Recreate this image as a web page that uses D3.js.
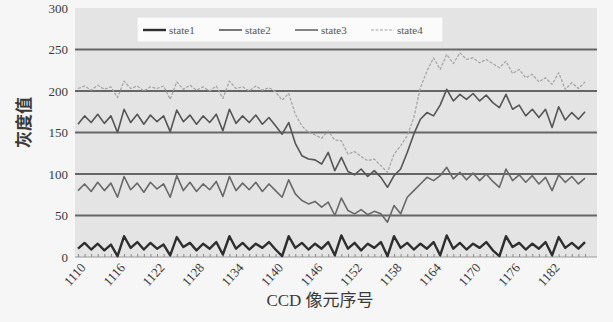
<!DOCTYPE html>
<html>
<head>
<meta charset="utf-8">
<script src="https://cdn.jsdelivr.net/npm/d3@7/dist/d3.min.js"></script>
<style>
  body { margin: 0; background: #f6f6f6; }
  svg { display: block; }
</style>
</head>
<body>
<div id="chart"></div>
<script>
// CCD pixel index
const pixels = [
  1110, 1111, 1112, 1113, 1114, 1115, 1116, 1117, 1118, 1119,
  1120, 1121, 1122, 1123, 1124, 1125, 1126, 1127, 1128, 1129,
  1130, 1131, 1132, 1133, 1134, 1135, 1136, 1137, 1138, 1139,
  1140, 1141, 1142, 1143, 1144, 1145, 1146, 1147, 1148, 1149,
  1150, 1151, 1152, 1153, 1154, 1155, 1156, 1157, 1158, 1159,
  1160, 1161, 1162, 1163, 1164, 1165, 1166, 1167, 1168, 1169,
  1170, 1171, 1172, 1173, 1174, 1175, 1176, 1177, 1178, 1179,
  1180, 1181, 1182, 1183, 1184, 1185, 1186, 1187
]
const xTickLabels = [1110, 1116, 1122, 1128, 1134, 1140, 1146, 1152, 1158, 1164, 1170, 1176, 1182]
const yTicks = [0, 50, 100, 150, 200, 250, 300]

const state1 = [
  10, 17, 9, 16, 8, 15, 1, 25, 11, 18,
  9, 17, 10, 15, 2, 24, 12, 17, 8, 16,
  10, 18, 3, 25, 10, 17, 9, 16, 11, 18,
  9, 1, 25, 11, 17, 9, 16, 10, 18, 2,
  26, 10, 17, 8, 16, 11, 18, 1, 25, 11,
  17, 9, 16, 10, 18, 2, 26, 10, 17, 9,
  16, 11, 18, 8, 1, 25, 12, 17, 9, 16,
  10, 18, 2, 24, 11, 17, 10, 18
]
const state2 = [
  160, 170, 162, 172, 161, 170, 150, 178, 162, 172,
  160, 171, 163, 170, 151, 177, 163, 171, 160, 170,
  162, 172, 152, 178, 161, 170, 162, 171, 160, 168,
  158, 148, 162, 137, 122, 118, 117, 112, 126, 104,
  120, 103, 99, 106, 97, 104, 96, 84, 98, 106,
  126, 148, 166, 174, 170, 183, 202, 188, 196, 190,
  197, 188, 195, 186, 180, 196, 178, 183, 170, 178,
  168, 178, 156, 181, 165, 174, 166, 175
]
const state3 = [
  80, 88, 79, 90, 80, 89, 72, 97, 81, 89,
  78, 90, 82, 88, 72, 98, 80, 90, 79, 88,
  81, 91, 73, 97, 80, 89, 81, 90, 79, 88,
  80, 72, 93, 76, 68, 64, 67, 60, 66, 50,
  71, 56, 52, 57, 51, 55, 52, 42, 62, 52,
  72, 80, 88, 96, 92, 98, 108, 94, 102, 93,
  101, 92, 100, 91, 84, 106, 92, 99, 90, 98,
  88, 96, 80, 99, 90, 97, 88, 95
]
const state4 = [
  203, 206, 201, 207, 202, 205, 192, 212, 203, 206,
  200, 205, 203, 206, 190, 211, 202, 207, 201, 205,
  200, 206, 191, 212, 203, 205, 200, 206, 201, 204,
  199, 189, 197, 172, 158, 150, 147, 143, 152, 141,
  140, 124, 127, 121, 116, 118, 110, 102, 124, 134,
  146, 168, 204, 224, 240, 226, 244, 233, 246, 238,
  240, 234, 238, 233, 228, 236, 221, 226, 216, 220,
  211, 216, 208, 222, 202, 210, 203, 211
]

const series = [
  { name: "state1", values: state1, color: "#2e2e2e", width: 2.4, dash: null },
  { name: "state2", values: state2, color: "#555", width: 1.6, dash: null },
  { name: "state3", values: state3, color: "#686868", width: 1.6, dash: null },
  { name: "state4", values: state4, color: "#a3a3a3", width: 1.2, dash: "3,1.5" }
]

const W = 613, H = 322
const plot = { left: 75, right: 597, top: 8, bottom: 257 }

const svg = d3.select("#chart").append("svg")
  .attr("width", W)
  .attr("height", H)

svg.append("rect")
  .attr("x", plot.left)
  .attr("y", plot.top)
  .attr("width", plot.right - plot.left)
  .attr("height", plot.bottom - plot.top)
  .attr("fill", "#e4e4e4")

const x = d3.scalePoint()
  .domain(pixels)
  .range([plot.left + 3, plot.right - 12])

const y = d3.scaleLinear()
  .domain([0, 300])
  .range([plot.bottom, plot.top])

// grid lines
svg.append("g")
  .selectAll("line")
  .data(yTicks.filter(d => d > 0 && d < 300))
  .join("line")
    .attr("x1", plot.left)
    .attr("x2", plot.right)
    .attr("y1", d => y(d))
    .attr("y2", d => y(d))
    .attr("stroke", "#666")
    .attr("stroke-width", 2)

// y axis labels
const yAxis = d3.axisLeft(y).tickValues(yTicks).tickSize(0).tickPadding(7)
const gy = svg.append("g")
  .attr("transform", `translate(${plot.left},0)`)
  .call(yAxis)
gy.select(".domain").remove()
gy.selectAll("text")
  .attr("font-family", "Liberation Serif, serif")
  .attr("font-size", 13)
  .attr("fill", "#3a3a3a")

// x axis with a small tick on every pixel
const xAxis = d3.axisBottom(x).tickSize(-3).tickFormat("")
const gx = svg.append("g")
  .attr("transform", `translate(0,${plot.bottom})`)
  .call(xAxis)
gx.select(".domain")
  .attr("d", `M${plot.left},0H${plot.right}`)
  .attr("stroke", "#9a9a9a")
gx.selectAll(".tick line").attr("stroke", "#8a8a8a")

svg.append("g")
  .selectAll("text")
  .data(xTickLabels)
  .join("text")
    .attr("transform", d => `translate(${x(d) + 5},${plot.bottom + 8}) rotate(-48)`)
    .attr("text-anchor", "end")
    .attr("dy", "0.35em")
    .attr("font-family", "Liberation Serif, serif")
    .attr("font-size", 13)
    .attr("fill", "#3a3a3a")
    .text(d => d)

// series lines
const line = d3.line()
  .x((d, i) => x(pixels[i]))
  .y(d => y(d))

svg.append("g")
  .selectAll("path")
  .data(series.slice().reverse())
  .join("path")
    .attr("d", d => line(d.values))
    .attr("fill", "none")
    .attr("stroke", d => d.color)
    .attr("stroke-width", d => d.width)
    .attr("stroke-dasharray", d => d.dash)
    .attr("stroke-linejoin", "round")

// legend
const legend = svg.append("g")
legend.append("rect")
  .attr("x", 137)
  .attr("y", 17)
  .attr("width", 306)
  .attr("height", 25)
  .attr("fill", "#fbfbfb")
  .attr("stroke", "#e0e0e0")

const item = legend.selectAll("g")
  .data(series)
  .join("g")
    .attr("transform", (d, i) => `translate(${143 + i * 76},30)`)
item.append("line")
  .attr("x1", 0)
  .attr("x2", 23)
  .attr("stroke", d => d.color)
  .attr("stroke-width", d => d.width)
  .attr("stroke-dasharray", d => d.dash)
item.append("text")
  .attr("x", 26)
  .attr("dy", "0.35em")
  .attr("font-family", "Liberation Serif, serif")
  .attr("font-size", 11)
  .attr("fill", "#555")
  .text(d => d.name)

// axis titles
svg.append("text")
  .attr("transform", `translate(24,${(plot.top + plot.bottom) / 2 - 10}) rotate(-90)`)
  .attr("text-anchor", "middle")
  .attr("dy", "0.35em")
  .attr("font-family", "Noto Sans CJK SC, sans-serif")
  .attr("font-size", 17)
  .attr("font-weight", "bold")
  .attr("fill", "#3a3a3a")
  .text("灰度值")

svg.append("text")
  .attr("x", 320)
  .attr("y", 306)
  .attr("text-anchor", "middle")
  .attr("font-family", "Liberation Serif, Noto Sans CJK SC, serif")
  .attr("font-size", 17)
  .attr("fill", "#3a3a3a")
  .text("CCD 像元序号")
</script>
</body>
</html>
